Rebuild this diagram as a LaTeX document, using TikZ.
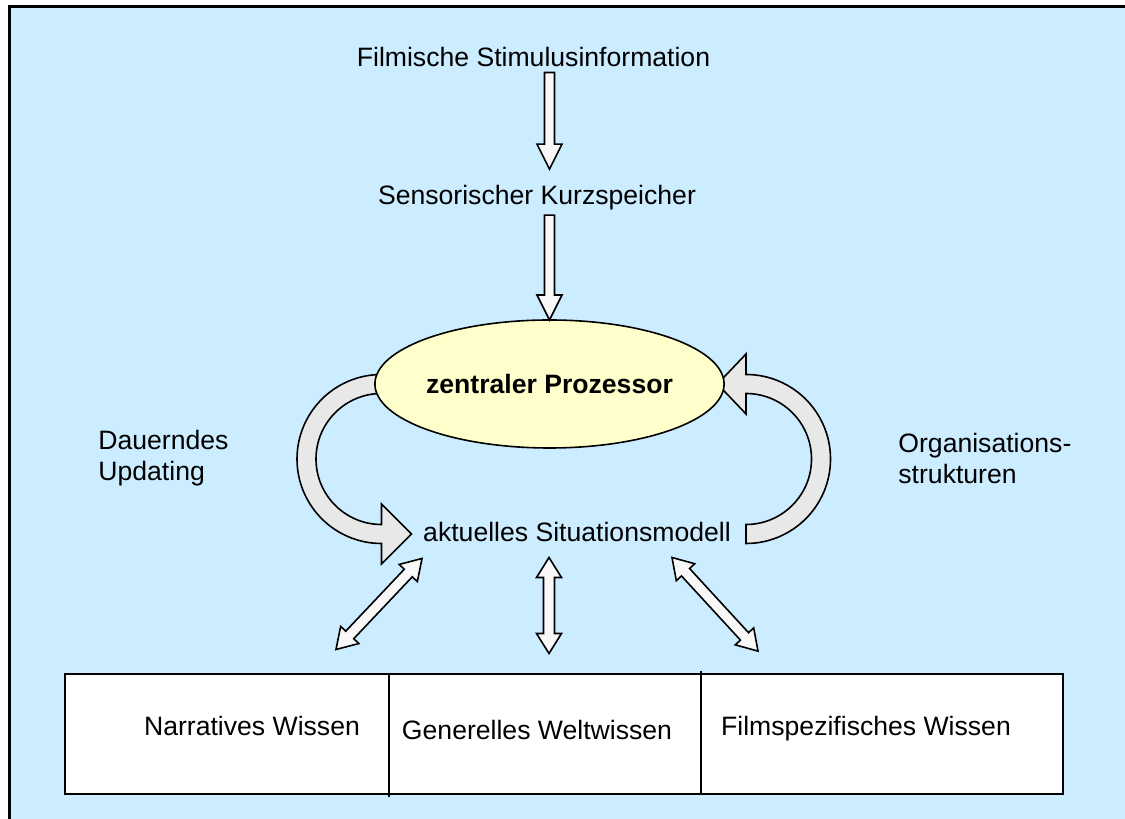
\documentclass[tikz,border=0pt]{standalone}
\usepackage{fontspec}
\setmainfont{Liberation Sans}
\usetikzlibrary{calc,shapes.geometric}
\definecolor{bgblue}{HTML}{CCECFF}
\definecolor{procyellow}{HTML}{FFFFCC}
\definecolor{bandgray}{HTML}{E8E8E8}
\definecolor{arrwhite}{HTML}{F8F8F8}
\tikzset{
  blockarr/.style={fill=arrwhite, draw=black, line width=0.8pt, line join=miter},
  bendarr/.style={fill=bandgray, draw=black, line width=0.8pt, line join=miter},
  lbl/.style={inner sep=0pt, font=\fontsize{13.3}{15.5}\selectfont},
}
% hollow block arrow: #1 tail, #2 tip
\newcommand\blockarrow[2]{%
  \coordinate (ba-t) at #1; \coordinate (ba-p) at #2;
  \coordinate (ba-h) at ($(ba-p)!12.5pt!(ba-t)$);
  \filldraw[blockarr] ($(ba-t)!2.5pt!90:(ba-p)$) -- ($(ba-h)!2.5pt!90:(ba-p)$)
    -- ($(ba-h)!6.25pt!90:(ba-p)$) -- (ba-p) -- ($(ba-h)!6.25pt!-90:(ba-p)$)
    -- ($(ba-h)!2.5pt!-90:(ba-p)$) -- ($(ba-t)!2.5pt!-90:(ba-p)$) -- cycle;}
% hollow double arrow: #1 and #2 are the two tips
\newcommand\dblarrow[2]{%
  \coordinate (da-a) at #1; \coordinate (da-b) at #2;
  \coordinate (da-ha) at ($(da-a)!10pt!(da-b)$);
  \coordinate (da-hb) at ($(da-b)!10pt!(da-a)$);
  \filldraw[blockarr] (da-a) -- ($(da-ha)!6.25pt!90:(da-b)$) -- ($(da-ha)!2.75pt!90:(da-b)$)
    -- ($(da-hb)!2.75pt!90:(da-b)$) -- ($(da-hb)!6.25pt!90:(da-b)$) -- (da-b)
    -- ($(da-hb)!6.25pt!-90:(da-b)$) -- ($(da-hb)!2.75pt!-90:(da-b)$)
    -- ($(da-ha)!2.75pt!-90:(da-b)$) -- ($(da-ha)!6.25pt!-90:(da-b)$) -- cycle;}
\begin{document}
\begin{tikzpicture}[x=0.5pt,y=0.5pt]
\useasboundingbox (0,0) rectangle (1125,819);
\filldraw[fill=bgblue, line width=1.5pt] (9,812) rectangle (1140,-10);

% texts
\node[lbl, anchor=base] (film) at (533.5,752) {Filmische Stimulusinformation};
\node[lbl, anchor=base] (sensor) at (537,614) {Sensorischer Kurzspeicher};
\node[lbl, anchor=base] (model) at (577,277) {aktuelles Situationsmodell};
\node[lbl, anchor=west, align=left] (update) at (98,361) {Dauerndes\\Updating};
\node[lbl, anchor=west, align=left] (orga) at (898,361) {Organisations-\\strukturen};

% curved arrows round the processor
\coordinate (pw) at (381.5,435);
\coordinate (pe) at (717.5,435);
\filldraw[bendarr] ($(pw)+(0,9.5)$) arc[start angle=90, end angle=270, radius=84.5]
  -- ++(0,-20.5) -- ++(30,30) -- ++(-30,30) -- ++(0,-20.5)
  arc[start angle=270, end angle=90, radius=65.5] -- cycle;
\filldraw[bendarr] (pe) -- ++(28.5,30) -- ++(0,-20.5)
  arc[start angle=90, end angle=-90, radius=84.5] -- ++(0,19)
  arc[start angle=-90, end angle=90, radius=65.5] -- ++(0,-20.5) -- cycle;

\node[ellipse, draw, fill=procyellow, line width=0.8pt, minimum width=168pt,
  minimum height=64pt, inner sep=0pt, outer sep=0pt, lbl] (proc) at (549.5,435)
  {\bfseries zentraler Prozessor};

% knowledge box
\filldraw[fill=white, line width=0.8pt] (65,25) rectangle (1063,145);
\draw[line width=0.8pt] (389,145) -- (389,22);
\draw[line width=0.8pt] (701,148) -- (701,25);
\node[lbl, anchor=base] (narr) at (252,83) {Narratives Wissen};
\node[lbl, anchor=base] (welt) at (537,79) {Generelles Weltwissen};
\node[lbl, anchor=base] (spez) at (866,83) {Filmspezifisches Wissen};

% arrows
\blockarrow{($(proc |- film)+(0,-15)$)}{($(proc |- sensor)+(0,29)$)}
\blockarrow{($(proc |- sensor)+(0,-17)$)}{(proc.north)}
\dblarrow{($(model)+(-155,-26)$)}{($(narr)+(84,77)$)}
\dblarrow{($(model)+(-28,-25)$)}{($(welt)+(12,77)$)}
\dblarrow{($(model)+(95,-25)$)}{($(spez)+(-108,78)$)}
\end{tikzpicture}
\end{document}
